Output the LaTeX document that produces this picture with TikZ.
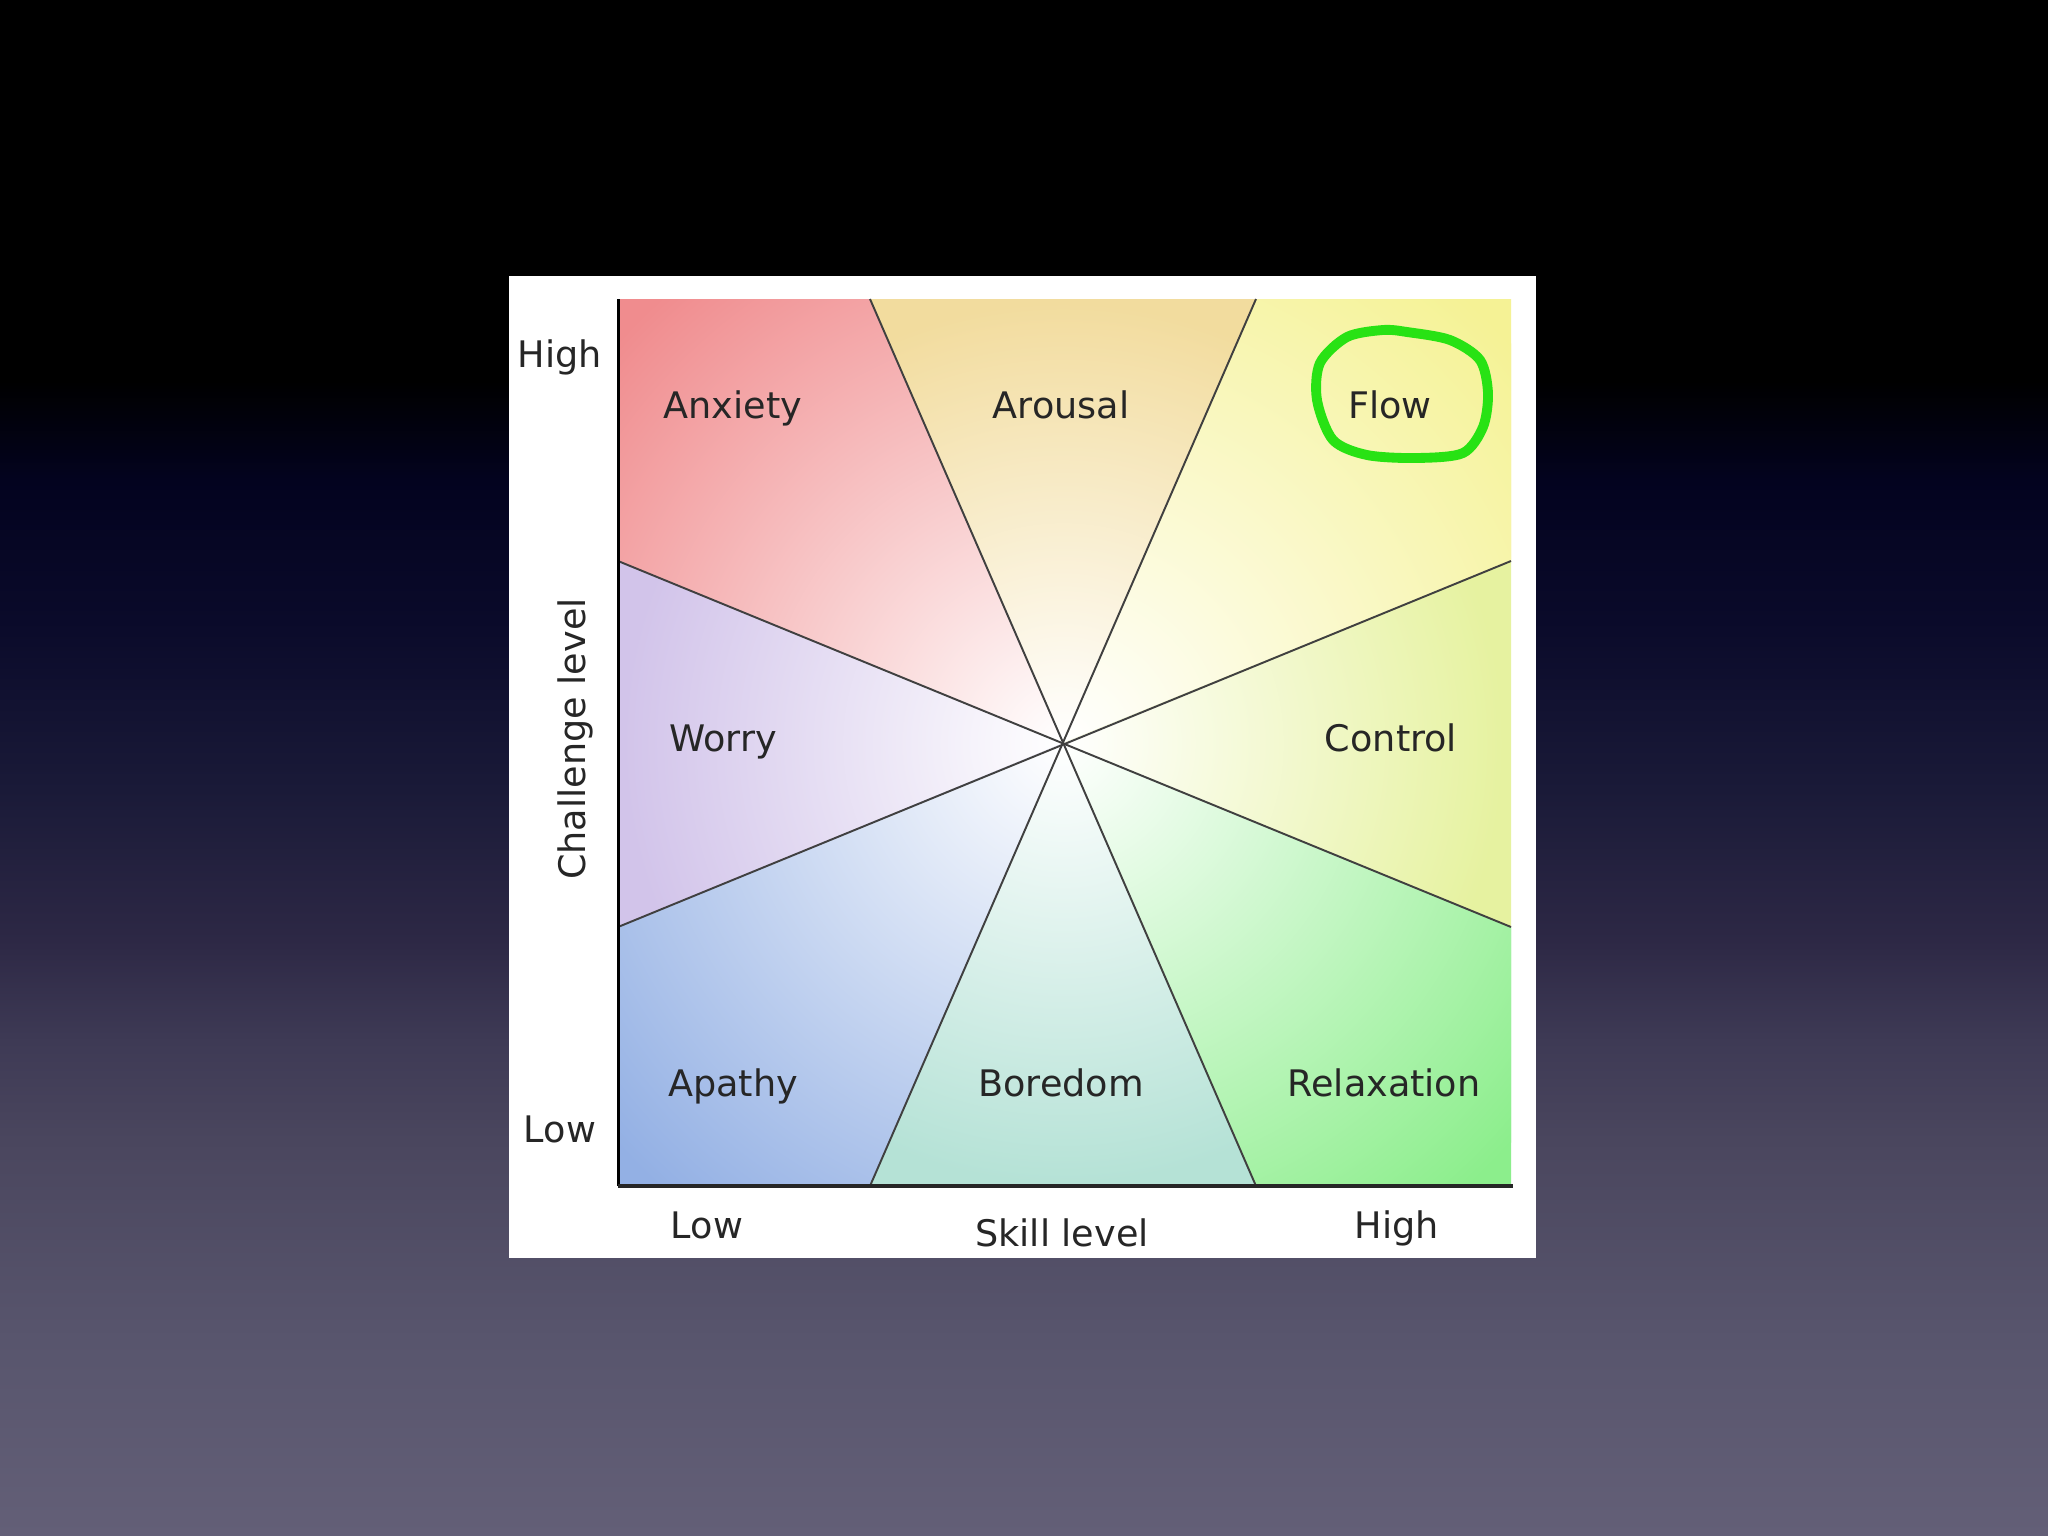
\documentclass[tikz,border=0pt]{standalone}
\usepackage{fontspec}
\setmainfont{DejaVu Sans}

% slide background
\definecolor{bgN}{RGB}{3,3,31}
\definecolor{bgA}{RGB}{10,10,42}
\definecolor{bgB}{RGB}{26,26,56}
\definecolor{bgC}{RGB}{45,40,69}
\definecolor{bgD}{RGB}{62,58,85}
\definecolor{bgF}{RGB}{74,70,94}
\definecolor{bgG}{RGB}{88,85,109}
\definecolor{bgE}{RGB}{99,95,119}
\pgfdeclareverticalshading{slidebg}{100bp}{color(0bp)=(bgE); color(25bp)=(bgE);
  color(31.4bp)=(bgG); color(37.9bp)=(bgF); color(41.1bp)=(bgD); color(44.4bp)=(bgC);
  color(49.3bp)=(bgB); color(54.8bp)=(bgA); color(59.4bp)=(bgN); color(62.6bp)=(black);
  color(100bp)=(black)}

% zone colours
\definecolor{anxcol}{RGB}{240,140,142}
\definecolor{arocol}{RGB}{242,220,158}
\definecolor{flocol}{RGB}{245,242,149}
\definecolor{concol}{RGB}{230,242,160}
\definecolor{relcol}{RGB}{140,238,140}
\definecolor{borcol}{RGB}{181,226,214}
\definecolor{apacol}{RGB}{147,176,228}
\definecolor{worcol}{RGB}{210,196,234}
\definecolor{ringgreen}{RGB}{40,226,20}

\tikzset{
  zone/.style={font=\fontsize{10.4}{12}\selectfont, text=black!85, anchor=base, inner sep=0pt},
  axislabel/.style={zone},
  divider/.style={draw=black!75, line width=0.55pt},
  flowring/.style={draw=ringgreen, line width=2.8pt, line cap=round, line join=round}
}

% #1 colour, #2 radius, #3 polygon
\newcommand{\region}[3]{%
  \begin{scope}
    \clip #3 -- cycle;
    \fill[#1] #3 -- cycle;
    \shade[inner color=white, outer color=#1] (c) circle[radius=#2];
  \end{scope}}

\begin{document}
\begin{tikzpicture}[x=0.01cm, y=-0.01cm]
  \shade[shading=slidebg] (0,0) rectangle (2048,1536);
  \fill[white] (509,276) rectangle (1536,1258);

  % plot frame
  \coordinate (c) at (1063,743);
  \coordinate (nw) at (618,299);
  \coordinate (ne) at (1511,299);
  \coordinate (se) at (1511,1186);
  \coordinate (sw) at (618,1186);
  \coordinate (tl) at (870,299);
  \coordinate (tr) at (1256,299);
  \coordinate (bl) at (870,1186);
  \coordinate (br) at (1256,1186);
  \coordinate (lu) at (618,561);
  \coordinate (ld) at (618,927);
  \coordinate (ru) at (1511,561);
  \coordinate (rd) at (1511,927);

  \region{anxcol}{6cm}{(c) -- (lu) -- (nw) -- (tl)}
  \region{arocol}{4.4cm}{(c) -- (tl) -- (tr)}
  \region{flocol}{6cm}{(c) -- (tr) -- (ne) -- (ru)}
  \region{concol}{4.4cm}{(c) -- (ru) -- (rd)}
  \region{relcol}{6cm}{(c) -- (rd) -- (se) -- (br)}
  \region{borcol}{4.4cm}{(c) -- (br) -- (bl)}
  \region{apacol}{6cm}{(c) -- (bl) -- (sw) -- (ld)}
  \region{worcol}{4.4cm}{(c) -- (ld) -- (lu)}

  \draw[divider] (tl) -- (br);
  \draw[divider] (tr) -- (bl);
  \draw[divider] (lu) -- (rd);
  \draw[divider] (ld) -- (ru);

  % axes
  \draw[black, line width=0.85pt] (nw) -- (sw);
  \draw[black!85, line width=1.4pt] (sw) -- (1513,1186);

  \node[zone] (anx) at (733,418) {Anxiety};
  \node[zone] (aro) at (1061,418) {Arousal};
  \node[zone] (flo) at (1390,418) {Flow};
  \node[zone] (wor) at (723,751) {Worry};
  \node[zone] (con) at (1391,751) {Control};
  \node[zone] (apa) at (733,1096) {Apathy};
  \node[zone] (bor) at (1061,1096) {Boredom};
  \node[zone] (rel) at (1384,1096) {Relaxation};

  \node[axislabel] (yhigh) at (560,367) {High};
  \node[axislabel] (ylow) at (560,1142) {Low};
  \node[axislabel, rotate=90] (chal) at (585,739) {Challenge level};
  \node[axislabel] (xlow) at (707,1238) {Low};
  \node[axislabel] (skill) at (1062,1246) {Skill level};
  \node[axislabel] (xhigh) at (1397,1238) {High};

  % hand drawn ring round Flow
  \draw[flowring] plot[smooth cycle] coordinates {(1407,332) (1450,340) (1480,360)
    (1488,393) (1483,427) (1463,453) (1417,458) (1367,455) (1333,440) (1317,400)
    (1320,363) (1347,337) (1383,330)};
\end{tikzpicture}
\end{document}
